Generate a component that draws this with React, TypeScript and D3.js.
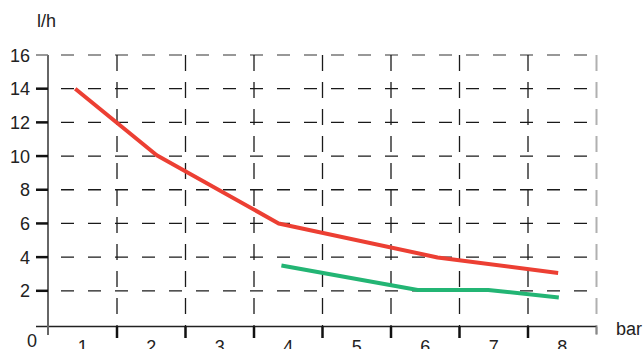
import React from "react";
import * as d3 from "d3";

const categories = [1, 2, 3, 4, 5, 6, 7, 8];
const yTicks = [2, 4, 6, 8, 10, 12, 14, 16];
const redX = [0.89, 2.08, 3.86, 6.18, 7.94];
const redY = [14.0, 10.05, 6.0, 3.98, 3.06];
const greenX = [3.9, 5.89, 6.92, 7.95];
const greenY = [3.5, 2.05, 2.05, 1.6];
const yUnit = "l/h";
const xUnit = "bar";

export default function App() {
  const W = 643, H = 349;
  const x = d3.scaleLinear().domain([0.5, 8.5]).range([48.5, 596.5]);
  const y = d3.scaleLinear().domain([0, 16]).range([324.5, 55]);
  const line = d3.line<[number, number]>().x(d => x(d[0])).y(d => y(d[1]));
  const red = redX.map((v, i) => [v, redY[i]] as [number, number]);
  const green = greenX.map((v, i) => [v, greenY[i]] as [number, number]);
  const bounds = d3.range(1.5, 8.5, 1);
  const axisY = 326.5;
  const font = "'Liberation Sans', Arial, sans-serif";
  return (
    <svg width={W} height={H} style={{ position: "absolute", left: 0, top: 0 }} fontFamily={font}>
      <rect width={W} height={H} fill="#fff" />
      {/* horizontal grid */}
      {yTicks.map(t => (
        <line key={"h" + t} x1={61} x2={597} y1={y(t)} y2={y(t)}
          stroke={t === 16 ? "#777" : "#1a1a1a"} strokeWidth={1.3} strokeDasharray="13,14" />
      ))}
      {/* vertical grid */}
      {bounds.map(b => (
        <line key={"v" + b} x1={x(b)} x2={x(b)} y1={55} y2={axisY}
          stroke="#1a1a1a" strokeWidth={1.3} strokeDasharray="16,11" />
      ))}
      <line x1={x(8.5)} x2={x(8.5)} y1={55} y2={335} stroke="#b0b0b0" strokeWidth={2} strokeDasharray="16,11" />
      {/* x axis */}
      <line x1={36} x2={x(8.5)} y1={axisY} y2={axisY} stroke="#222" strokeWidth={1.5} />
      {bounds.map(b => (
        <line key={"xt" + b} x1={x(b)} x2={x(b)} y1={axisY} y2={338} stroke="#111" strokeWidth={2.5} />
      ))}
      <line x1={x(8.5)} x2={x(8.5)} y1={axisY} y2={334} stroke="#888" strokeWidth={2} />
      {/* y axis */}
      <line x1={48} x2={48} y1={55} y2={335} stroke="#666" strokeWidth={2} />
      {yTicks.map(t => (
        <line key={"yt" + t} x1={36} x2={48} y1={y(t)} y2={y(t)}
          stroke={t === 16 ? "#777" : "#111"} strokeWidth={t === 16 ? 1.5 : 2.5} />
      ))}
      {yTicks.map(t => (
        <text key={"yl" + t} x={30} y={y(t) + 6.5} textAnchor="end" fontSize={18} fill="#222">{t}</text>
      ))}
      <text x={32} y={347} textAnchor="middle" fontSize={18} fill="#222">0</text>
      {categories.map(c => (
        <text key={"xl" + c} x={x(c)} y={353} textAnchor="middle" fontSize={18} fill="#222">{c}</text>
      ))}
      <text x={37} y={27} fontSize={18} fill="#222">{yUnit}</text>
      <text x={616} y={335} fontSize={18} fill="#222">{xUnit}</text>
      {/* series */}
      <path d={line(red) || ""} fill="none" stroke="#ec3f33" strokeWidth={4} strokeLinejoin="round" />
      <path d={line(green) || ""} fill="none" stroke="#23b574" strokeWidth={4} strokeLinejoin="round" />
    </svg>
  );
}
